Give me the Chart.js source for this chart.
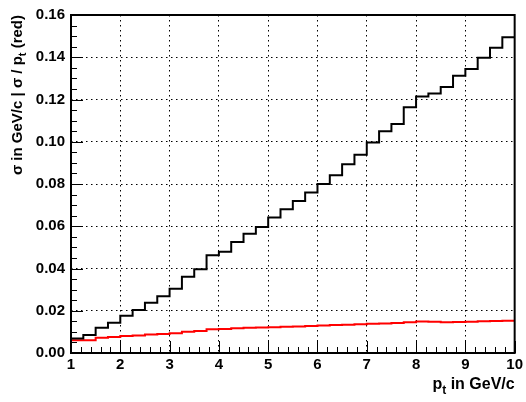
<!DOCTYPE html>
<html>
<head>
<meta charset="utf-8">
<script src="https://cdn.jsdelivr.net/npm/chart.js@4"></script>
<style>
html,body{margin:0;padding:0;background:#fff;}
#wrap{width:526px;height:402px;position:relative;}
</style>
</head>
<body>
<div id="wrap"><canvas id="c" width="526" height="402"></canvas></div>
<script>
// Bin edges (p_t in GeV/c)
const binEdges = [1,1.25,1.5,1.75,2,2.25,2.5,2.75,3,3.25,3.5,3.75,4,4.25,4.5,4.75,5,5.25,5.5,5.75,6,6.25,6.5,6.75,7,7.25,7.5,7.75,8,8.25,8.5,8.75,9,9.25,9.5,9.75,10];
// sigma in GeV/c (black)
const sigma = [0.0069,0.0085,0.0120,0.0143,0.0176,0.0203,0.0238,0.0269,0.0304,0.0361,0.0397,0.0463,0.0479,0.0526,0.0565,0.0597,0.0642,0.0680,0.0720,0.0760,0.0800,0.0842,0.0893,0.0938,0.0997,0.1050,0.1084,0.1163,0.1214,0.1228,0.1259,0.1312,0.1344,0.1398,0.1445,0.1495];
// sigma / p_t (red)
const relSigma = [0.0060,0.0060,0.0072,0.0076,0.0080,0.0083,0.0087,0.0090,0.0094,0.0101,0.0104,0.0112,0.0114,0.0117,0.0119,0.0121,0.0122,0.0124,0.0126,0.0128,0.0130,0.0132,0.0134,0.0136,0.0138,0.0140,0.0142,0.0145,0.0149,0.0148,0.0145,0.0147,0.0148,0.0150,0.0151,0.0153];
const xTickValues = [1,2,3,4,5,6,7,8,9,10];
const yTickValues = [0,0.02,0.04,0.06,0.08,0.10,0.12,0.14,0.16];

const FONT = "'Liberation Sans', Arial, Helvetica, sans-serif";

function histPoints(vals){
  return binEdges.map((e,i)=>({x:e, y: vals[Math.min(i, vals.length-1)]}));
}

const rootPlugin = {
  id:'rootStyle',
  afterDraw(chart){
    const ctx = chart.ctx, a = chart.chartArea;
    const xs = chart.scales.x, ys = chart.scales.y;
    ctx.save();
    ctx.strokeStyle = '#000';
    // minor / major ticks
    ctx.lineWidth = 1;
    ctx.beginPath();
    for(let k=0;k<=32;k++){
      const v = k*0.005;
      const py = Math.round(ys.getPixelForValue(v))+0.5;
      const len = (k%4===0)?12:6;
      ctx.moveTo(a.left, py); ctx.lineTo(a.left+len, py);
    }
    for(let k=0;k<=45;k++){
      const v = 1 + k*0.2;
      const px = Math.round(xs.getPixelForValue(v))+0.5;
      const len = (k%5===0)?12:6;
      ctx.moveTo(px, a.bottom); ctx.lineTo(px, a.bottom-len);
    }
    ctx.stroke();
    // frame
    ctx.lineWidth = 2;
    ctx.strokeRect(a.left, a.top, a.right-a.left, a.bottom-a.top);
    // x title
    ctx.fillStyle = '#000';
    ctx.textBaseline = 'alphabetic';
    const main = ' in GeV/c';
    ctx.font = "bold 16px " + FONT;
    const wMain = ctx.measureText(main).width;
    const wP = ctx.measureText('p').width;
    ctx.font = "bold 12px " + FONT;
    const wSub = ctx.measureText('t').width;
    let x0 = a.right - wMain - wSub - wP;
    const base = 389;
    ctx.textAlign = 'left';
    ctx.font = "bold 16px " + FONT;
    ctx.fillText('p', x0, base);
    ctx.font = "bold 12px " + FONT;
    ctx.fillText('t', x0+wP, base+5);
    ctx.font = "bold 16px " + FONT;
    ctx.fillText(main, x0+wP+wSub, base);
    // y title (rotated)
    ctx.save();
    ctx.translate(22, a.top);
    ctx.rotate(-Math.PI/2);
    const p1 = '\u03c3 in GeV/c | \u03c3 / p';
    const p3 = ' (red)';
    ctx.font = "bold 15px " + FONT;
    const w1 = ctx.measureText(p1).width, w3 = ctx.measureText(p3).width;
    ctx.font = "bold 11px " + FONT;
    const w2 = ctx.measureText('t').width;
    let sx = -(w1+w2+w3);
    ctx.font = "bold 15px " + FONT;
    ctx.fillText(p1, sx, 0);
    ctx.font = "bold 11px " + FONT;
    ctx.fillText('t', sx+w1, 4);
    ctx.font = "bold 15px " + FONT;
    ctx.fillText(p3, sx+w1+w2, 0);
    ctx.restore();
    ctx.restore();
  }
};

new Chart(document.getElementById('c'), {
  type:'line',
  data:{
    datasets:[
      {label:'sigma', data: histPoints(sigma), borderColor:'#000', borderWidth:2, stepped:true, pointRadius:0, fill:false},
      {label:'sigma/pt', data: histPoints(relSigma), borderColor:'#ff0000', borderWidth:2, stepped:true, pointRadius:0, fill:false}
    ]
  },
  options:{
    responsive:false,
    animation:false,
    events:[],
    layout:{padding:{left:0,right:9,top:10,bottom:0}},
    plugins:{legend:{display:false}, tooltip:{enabled:false}},
    scales:{
      x:{
        type:'linear', min:1, max:10,
        afterFit(s){ s.height = 49; },
        afterBuildTicks(s){ s.ticks = xTickValues.map(v=>({value:v})); },
        ticks:{ color:'#000', font:{family:FONT, weight:'bold', size:15}, padding:3, maxRotation:0, autoSkip:false, callback:v=>String(v) },
        grid:{ color:'#000', lineWidth:1, drawTicks:false },
        border:{ display:false, dash:[1.5,3.5] }
      },
      y:{
        min:0, max:0.16,
        afterFit(s){ s.width = 71; },
        afterBuildTicks(s){ s.ticks = yTickValues.map(v=>({value:v})); },
        ticks:{ color:'#000', font:{family:FONT, weight:'bold', size:15}, padding:6, autoSkip:false, callback:v=>Number(v).toFixed(2) },
        grid:{ color:'#000', lineWidth:1, drawTicks:false },
        border:{ display:false, dash:[1.5,3.5] }
      }
    }
  },
  plugins:[rootPlugin]
});
</script>
</body>
</html>
